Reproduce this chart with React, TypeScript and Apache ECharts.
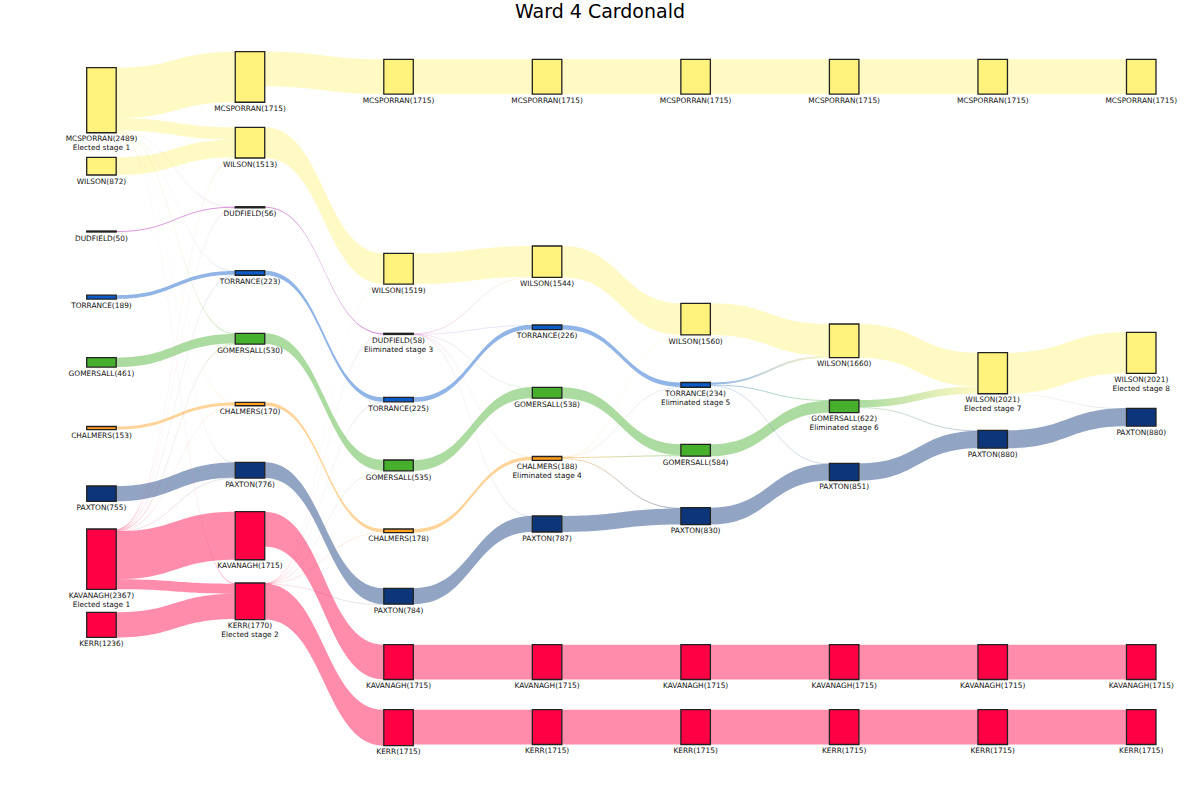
import { useEffect, useRef } from "react";
import * as echarts from "echarts";

// ---------------- data ----------------
const chartTitle = "Ward 4 Cardonald";

const candidates = [
  "MCSPORRAN",
  "WILSON",
  "DUDFIELD",
  "TORRANCE",
  "GOMERSALL",
  "CHALMERS",
  "PAXTON",
  "KAVANAGH",
  "KERR",
];

// votes of each candidate at each stage (null = no longer in the count)
const stage1 = [2489, 872, 50, 189, 461, 153, 755, 2367, 1236];
const stage2 = [1715, 1513, 56, 223, 530, 170, 776, 1715, 1770];
const stage3 = [1715, 1519, 58, 225, 535, 178, 784, 1715, 1715];
const stage4 = [1715, 1544, null, 226, 538, 188, 787, 1715, 1715];
const stage5 = [1715, 1560, null, 234, 584, null, 830, 1715, 1715];
const stage6 = [1715, 1660, null, null, 622, null, 851, 1715, 1715];
const stage7 = [1715, 2021, null, null, null, null, 880, 1715, 1715];
const stage8 = [1715, 2021, null, null, null, null, 880, 1715, 1715];
const stages: (number | null)[][] = [stage1, stage2, stage3, stage4, stage5, stage6, stage7, stage8];

// status notes: [stage (1-based), candidate, text]
const notes: [number, string, string][] = [
  [1, "MCSPORRAN", "Elected stage 1"],
  [1, "KAVANAGH", "Elected stage 1"],
  [2, "KERR", "Elected stage 2"],
  [3, "DUDFIELD", "Eliminated stage 3"],
  [4, "CHALMERS", "Eliminated stage 4"],
  [5, "TORRANCE", "Eliminated stage 5"],
  [6, "GOMERSALL", "Eliminated stage 6"],
  [7, "WILSON", "Elected stage 7"],
  [8, "WILSON", "Elected stage 8"],
];

// transfers: [from stage (1-based), from candidate, to candidate, votes]
const transfers: [number, string, string, number][] = [
  [1, "MCSPORRAN", "WILSON", 600],
  [1, "MCSPORRAN", "DUDFIELD", 3],
  [1, "MCSPORRAN", "TORRANCE", 15],
  [1, "MCSPORRAN", "GOMERSALL", 40],
  [1, "MCSPORRAN", "CHALMERS", 7],
  [1, "MCSPORRAN", "PAXTON", 10],
  [1, "MCSPORRAN", "KERR", 40],
  [1, "KAVANAGH", "WILSON", 41],
  [1, "KAVANAGH", "DUDFIELD", 3],
  [1, "KAVANAGH", "TORRANCE", 19],
  [1, "KAVANAGH", "GOMERSALL", 29],
  [1, "KAVANAGH", "CHALMERS", 10],
  [1, "KAVANAGH", "PAXTON", 11],
  [1, "KAVANAGH", "KERR", 494],
  [2, "KERR", "WILSON", 6],
  [2, "KERR", "DUDFIELD", 2],
  [2, "KERR", "TORRANCE", 2],
  [2, "KERR", "GOMERSALL", 5],
  [2, "KERR", "CHALMERS", 8],
  [2, "KERR", "PAXTON", 8],
  [3, "DUDFIELD", "WILSON", 25],
  [3, "DUDFIELD", "TORRANCE", 1],
  [3, "DUDFIELD", "GOMERSALL", 3],
  [3, "DUDFIELD", "CHALMERS", 10],
  [3, "DUDFIELD", "PAXTON", 3],
  [4, "CHALMERS", "WILSON", 16],
  [4, "CHALMERS", "TORRANCE", 8],
  [4, "CHALMERS", "GOMERSALL", 46],
  [4, "CHALMERS", "PAXTON", 43],
  [5, "TORRANCE", "WILSON", 100],
  [5, "TORRANCE", "GOMERSALL", 38],
  [5, "TORRANCE", "PAXTON", 21],
  [6, "GOMERSALL", "WILSON", 361],
  [6, "GOMERSALL", "PAXTON", 29],
  [7, "WILSON", "PAXTON", 0],
];

// ---------------- layout / style ----------------
const W = 1200;
const H = 800;
const candidateColors = [
  "#FFF27D",
  "#FFF27D",
  "#B01EB0",
  "#0A5AC8",
  "#46B02D",
  "#FF9F1C",
  "#0D367A",
  "#FF0044",
  "#FF0044",
];
// node top edges (px) per stage, same order as candidates
const nodeTops: (number | null)[][] = [
  [67.7, 157.3, 231, 295.2, 357.7, 426.5, 486, 529, 612.3],
  [51.7, 127.3, 206.7, 270.7, 333.3, 402.3, 462.3, 511.7, 583],
  [59.3, 253.3, 333.3, 397.3, 460, 529, 588.3, 644.7, 709.7],
  [59.3, 246, null, 325, 387.3, 456.5, 516, 644.7, 709.7],
  [59.3, 303.3, null, 382.5, 444.3, null, 507.7, 644.7, 709.7],
  [59.3, 324, null, null, 400, null, 463.3, 644.7, 709.7],
  [59.3, 352.7, null, null, null, null, 430.3, 644.7, 709.7],
  [59.3, 332.3, null, null, null, null, 408.3, 644.7, 709.7],
];
const pxPerVote = 0.0203;
const seriesLeft = 86.7;
const seriesRight = 44;
const nodeWidth = 29.5;
const linkOpacity = 0.45;

function nodeId(stage: number, cand: string) {
  return `${cand}-${stage}`;
}

function buildOption() {
  const nodes: any[] = [];
  stages.forEach((votes, si) => {
    votes.forEach((v, ci) => {
      if (v == null) return;
      const cand = candidates[ci];
      const note = notes.find((n) => n[0] === si + 1 && n[1] === cand);
      nodes.push({
        name: nodeId(si + 1, cand),
        value: v,
        depth: si,
        localY: (nodeTops[si][ci] as number) / H,
        labelText: `${cand}(${v})` + (note ? `\n${note[2]}` : ""),
        itemStyle: { color: candidateColors[ci] },
      });
    });
  });

  const links: any[] = [];
  for (let si = 0; si < stages.length - 1; si++) {
    stages[si].forEach((v, ci) => {
      if (v == null || stages[si + 1][ci] == null) return;
      links.push({
        source: nodeId(si + 1, candidates[ci]),
        target: nodeId(si + 2, candidates[ci]),
        value: v,
      });
    });
  }
  transfers.forEach(([st, from, to, v]) => {
    // hairline transfers are drawn 1px wide by the library; fade them like sub-pixel lines
    const w = v * pxPerVote;
    links.push({
      source: nodeId(st, from),
      target: nodeId(st + 1, to),
      value: v,
      lineStyle: { opacity: linkOpacity * Math.min(1, Math.max(0.3, w)) },
    });
  });

  // node values as the sankey layout computes them: max(in, out, own value)
  const inSum: Record<string, number> = {};
  const outSum: Record<string, number> = {};
  links.forEach((l) => {
    outSum[l.source] = (outSum[l.source] || 0) + l.value;
    inSum[l.target] = (inSum[l.target] || 0) + l.value;
  });
  let gap = Infinity;
  stages.forEach((_votes, si) => {
    const col = nodes.filter((n) => n.depth === si);
    const s = col.reduce(
      (acc, n) => acc + Math.max(n.value, inSum[n.name] || 0, outSum[n.name] || 0),
      0
    );
    if (col.length > 1) gap = Math.min(gap, (H - pxPerVote * s) / (col.length - 1));
  });

  return {
    animation: false,
    backgroundColor: "#ffffff",
    title: {
      text: chartTitle,
      left: "center",
      top: 1,
      padding: 0,
      textStyle: {
        fontFamily: "DejaVu Sans",
        fontSize: 19,
        fontWeight: "normal",
        color: "#000000",
      },
    },
    series: [
      {
        type: "sankey",
        left: seriesLeft,
        right: seriesRight,
        top: 0,
        bottom: 0,
        nodeWidth,
        nodeGap: gap,
        layoutIterations: 0,
        nodeAlign: "justify",
        draggable: false,
        emphasis: { disabled: true },
        data: nodes,
        links,
        itemStyle: { borderColor: "#222222", borderWidth: 1.3 },
        lineStyle: { color: "gradient", opacity: linkOpacity, curveness: 0.5 },
        label: {
          show: true,
          position: "bottom",
          distance: 1,
          fontFamily: "DejaVu Sans",
          fontSize: 7.4,
          lineHeight: 9,
          color: "#111111",
          align: "center",
          formatter: (p: any) => p.data.labelText,
        },
      },
    ],
  };
}

export default function App() {
  const ref = useRef<HTMLDivElement>(null);
  useEffect(() => {
    if (!ref.current) return;
    const chart = echarts.init(ref.current, undefined, { renderer: "svg" });
    chart.setOption(buildOption() as any);
    return () => chart.dispose();
  }, []);
  return (
    <div
      ref={ref}
      style={{ position: "fixed", left: 0, top: 0, width: W, height: H, background: "#fff" }}
    />
  );
}
